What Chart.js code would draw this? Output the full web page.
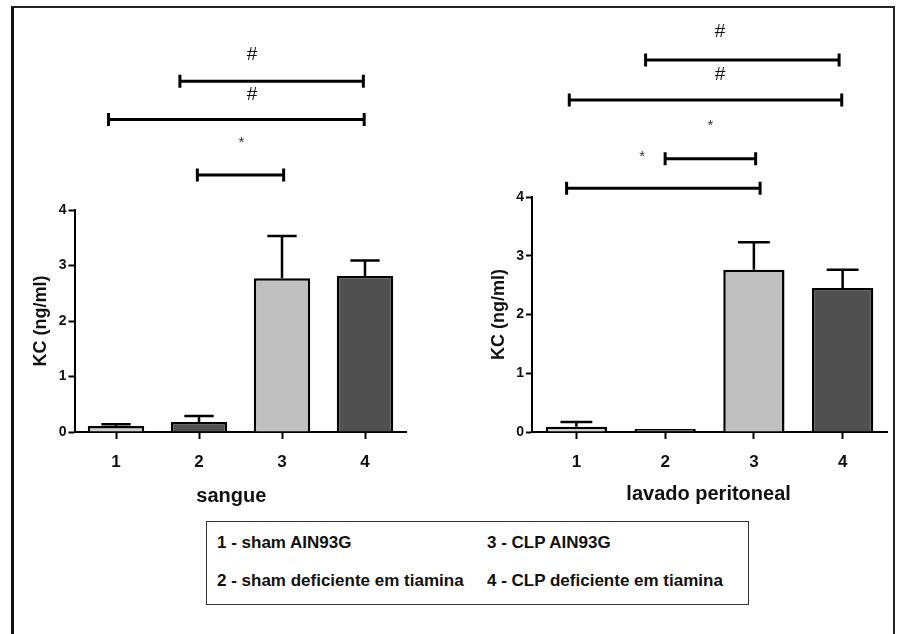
<!DOCTYPE html>
<html>
<head>
<meta charset="utf-8">
<script src="https://cdn.jsdelivr.net/npm/chart.js@4.4.1/dist/chart.umd.min.js"></script>
<style>
    html, body { margin: 0; padding: 0; background: #fff; }
    body { width: 907px; height: 634px; position: relative; overflow: hidden; font-family: "Liberation Sans", Arial, sans-serif; }
    .frame { position: absolute; left: 11px; top: 6px; width: 879px; height: 660px; border-left: 3px solid #111; border-top: 2px solid #222; border-right: 2px solid #222; }
    .panel { position: absolute; top: 0; height: 520px; }
    #panel-sangue { left: 0; width: 450px; }
    #panel-lavado { left: 450px; width: 457px; }
    .legend-box { position: absolute; left: 206px; top: 521px; width: 541px; height: 82px; border: 1.5px solid #333; }
    .legend-item { position: absolute; font-size: 17px; font-weight: bold; line-height: 20px; color: #111; white-space: nowrap; }
</style>
</head>
<body>
<div class="frame"></div>
<div class="panel" id="panel-sangue"><canvas id="chart-sangue" width="450" height="520"></canvas></div>
<div class="panel" id="panel-lavado"><canvas id="chart-lavado" width="457" height="520"></canvas></div>
<div class="legend-box" id="legend-box"></div>
<script>
(function () {
    'use strict';

    var categories = ['1', '2', '3', '4'];
    var barColors = ['#d2d2d2', '#505050', '#c0c0c0', '#505050'];

    // KC (ng/ml), mean and upper error (SEM)
    var sangueMeans = [0.11, 0.18, 2.77, 2.81];
    var sangueErrors = [0.03, 0.11, 0.76, 0.28];
    var lavadoMeans = [0.09, 0.02, 2.76, 2.45];
    var lavadoErrors = [0.08, 0, 0.47, 0.31];

    var yTicks = [0, 1, 2, 3, 4];

    // brackets: [from category index, to category index, KC level]
    var sangueBrackets = [[0.77, 2.98, 6.32], [-0.09, 2.99, 5.63], [0.98, 2.02, 4.63]];
    var sangueMarks = [[1.64, 6.79, '#'], [1.64, 6.07, '#'], [1.51, 5.26, '*']];
    var lavadoBrackets = [[0.78, 2.96, 6.33], [-0.08, 2.99, 5.65], [1.0, 2.02, 4.65], [-0.11, 2.07, 4.15]];
    var lavadoMarks = [[1.62, 6.81, '#'], [1.62, 6.08, '#'], [1.51, 5.26, '*'], [0.74, 4.73, '*']];

    var legendLabels = [
        '1 - sham AIN93G',
        '2 - sham deficiente em tiamina',
        '3 - CLP AIN93G',
        '4 - CLP deficiente em tiamina'
    ];

    var FONT = '"Liberation Sans", Arial, sans-serif';

    var errorBarPlugin = {
        id: 'errorBars',
        afterDatasetsDraw: function (chart, args, opts) {
            var ctx = chart.ctx;
            var yScale = chart.scales.y;
            var meta = chart.getDatasetMeta(0);
            var means = chart.data.datasets[0].data;
            ctx.save();
            ctx.strokeStyle = '#000';
            ctx.lineWidth = 2.5;
            meta.data.forEach(function (bar, i) {
                var err = opts.errors[i];
                if (!err) return;
                var top = yScale.getPixelForValue(means[i] + err);
                var half = bar.width * 0.26;
                ctx.beginPath();
                ctx.moveTo(bar.x, bar.y);
                ctx.lineTo(bar.x, top);
                ctx.moveTo(bar.x - half, top);
                ctx.lineTo(bar.x + half, top);
                ctx.stroke();
            });
            ctx.restore();
        }
    };

    var bracketPlugin = {
        id: 'brackets',
        afterDraw: function (chart, args, opts) {
            var ctx = chart.ctx;
            var xs = chart.scales.x;
            var ys = chart.scales.y;
            ctx.save();
            ctx.strokeStyle = '#000';
            ctx.lineWidth = 3;
            opts.lines.forEach(function (l) {
                var x1 = xs.getPixelForValue(l[0]);
                var x2 = xs.getPixelForValue(l[1]);
                var y = ys.getPixelForValue(l[2]);
                ctx.beginPath();
                ctx.moveTo(x1, y);
                ctx.lineTo(x2, y);
                ctx.moveTo(x1, y - 6.5);
                ctx.lineTo(x1, y + 6.5);
                ctx.moveTo(x2, y - 6.5);
                ctx.lineTo(x2, y + 6.5);
                ctx.stroke();
            });
            ctx.textAlign = 'center';
            ctx.textBaseline = 'middle';
            opts.marks.forEach(function (m) {
                var isHash = m[2] === '#';
                ctx.fillStyle = isHash ? '#111' : '#333';
                ctx.font = (isHash ? '19px ' : '15px ') + FONT;
                ctx.fillText(m[2], xs.getPixelForValue(m[0]), ys.getPixelForValue(m[1]) + (isHash ? 0 : 3));
            });
            // caption under the axis
            ctx.fillStyle = '#111';
            ctx.font = 'bold 20px ' + FONT;
            ctx.fillText(opts.caption, xs.getPixelForValue(opts.captionAt), opts.captionY);
            ctx.restore();
        }
    };

    function makeChart(canvasId, means, errors, brackets, marks, caption, captionAt, captionY, pad) {
        var ctx = document.getElementById(canvasId).getContext('2d');
        return new Chart(ctx, {
            type: 'bar',
            data: {
                labels: categories,
                datasets: [{
                    data: means,
                    backgroundColor: barColors,
                    borderColor: '#000',
                    borderWidth: 2.5,
                    minBarLength: 3,
                    barPercentage: pad.bar,
                    categoryPercentage: 1
                }]
            },
            options: {
                responsive: false,
                animation: false,
                events: [],
                layout: { padding: { left: pad.left, right: pad.right, top: pad.top, bottom: 0 } },
                plugins: {
                    legend: { display: false },
                    tooltip: { enabled: false },
                    errorBars: { errors: errors },
                    brackets: { lines: brackets, marks: marks, caption: caption, captionAt: captionAt, captionY: captionY }
                },
                scales: {
                    x: {
                        offset: true,
                        grid: { offset: false, drawOnChartArea: false, tickLength: 7, tickColor: '#000', tickWidth: 2 },
                        border: { color: '#000', width: 2 },
                        ticks: { color: '#111', padding: 13, font: { family: FONT, size: 17, weight: 'bold' } },
                        afterFit: function (scale) { scale.height = 88; }
                    },
                    y: {
                        min: 0,
                        max: 4,
                        afterBuildTicks: function (scale) {
                            scale.ticks = yTicks.map(function (v) { return { value: v }; });
                        },
                        grid: { drawOnChartArea: false, tickLength: 6, tickColor: '#000', tickWidth: 2 },
                        border: { color: '#000', width: 2 },
                        ticks: { color: '#111', padding: 2, font: { family: FONT, size: 14, weight: 'bold' } },
                        title: {
                            display: true,
                            text: 'KC (ng/ml)',
                            color: '#111',
                            padding: 0,
                            font: { family: FONT, size: 18, weight: 'bold' }
                        },
                        afterFit: function (scale) { scale.width = 44; }
                    }
                }
            },
            plugins: [errorBarPlugin, bracketPlugin]
        });
    }

    function buildLegend() {
        var box = document.getElementById('legend-box');
        var spots = [[10, 11], [10, 49], [280, 11], [280, 49]];
        legendLabels.forEach(function (text, i) {
            var el = document.createElement('span');
            el.className = 'legend-item';
            el.style.left = spots[i][0] + 'px';
            el.style.top = spots[i][1] + 'px';
            el.textContent = text;
            box.appendChild(el);
        });
    }

    makeChart('chart-sangue', sangueMeans, sangueErrors, sangueBrackets, sangueMarks,
        'sangue', 1.39, 496, { left: 30.5, right: 43.5, top: 210, bar: 0.68 });
    makeChart('chart-lavado', lavadoMeans, lavadoErrors, lavadoBrackets, lavadoMarks,
        'lavado peritoneal', 1.49, 494, { left: 38, right: 20, top: 197, bar: 0.69 });
    buildLegend();
})();
</script>
</body>
</html>
